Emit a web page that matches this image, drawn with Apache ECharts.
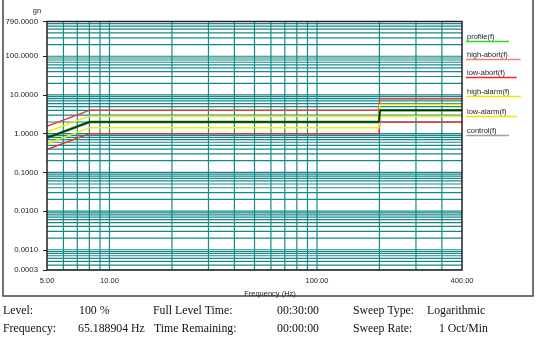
<!DOCTYPE html>
<html>
<head>
<meta charset="utf-8">
<script src="https://cdn.jsdelivr.net/npm/echarts@6/dist/echarts.min.js"></script>
<style>
html,body{margin:0;padding:0;background:#fff;}
#c{width:536px;height:338px;}
</style>
</head>
<body>
<div id="c"></div>
<script>
// ---- data ----
const limitFreq = [5, 8, 199, 201, 500];
const profile   = [0.78, 2.0, 2.0, 4.0, 4.0];
const highAbort = [1.56, 4.0, 4.0, 8.0, 8.0];
const lowAbort  = [0.39, 1.0, 1.0, 2.0, 2.0];
const highAlarm = [1.10, 2.83, 2.83, 5.66, 5.66];
const lowAlarm  = [0.55, 1.41, 1.41, 2.83, 2.83];
const controlFreq = [5, 5.5, 6, 6.5, 7, 7.5, 8, 20, 50, 100, 150, 199, 201, 300, 500];
const control     = [0.80, 0.93, 1.12, 1.30, 1.53, 1.77, 2.0, 2.0, 2.01, 2.0, 2.0, 2.0, 4.0, 4.0, 4.0];

const xTickValues = [5, 10, 100, 500];
const xTickLabels = ['5.00', '10.00', '100.00', '400.00'];
const xMin = 5, xMax = 500;
const yMin = 0.0003, yMax = 790;

const legendNames  = ['profile(f)', 'high-abort(f)', 'low-abort(f)', 'high-alarm(f)', 'low-alarm(f)', 'control(f)'];
const legendColors = ['#22dd22', '#f08080', '#ff2020', '#f2e600', '#f2e600', '#a0a0a0'];

const infoRow1 = [['Level:', 3], ['100 %', 79], ['Full Level Time:', 153], ['00:30:00', 277], ['Sweep Type:', 353], ['Logarithmic', 427]];
const infoRow2 = [['Frequency:', 3], ['65.188904 Hz', 78], ['Time Remaining:', 154], ['00:00:00', 277], ['Sweep Rate:', 353], ['1 Oct/Min', 439]];

// ---- grid line values (log minor grid 1..9 per decade) ----
const yGrid = [];
for (let e = -4; e <= 2; e++) for (let m = 1; m <= 9; m++) {
  const v = Number((m + 'e' + e));
  if (v > yMin * 0.999 && v < yMax) yGrid.push(v);
}
const xGrid = [];
for (let e = 0; e <= 2; e++) for (let m = 1; m <= 9; m++) {
  const v = Number((m + 'e' + e));
  if (v > xMin && v < xMax) xGrid.push(v);
}

const pairs = (xs, ys) => xs.map((x, i) => [x, ys[i]]);
const gridColor = '#17898a';

const chart = echarts.init(document.getElementById('c'), null, {renderer: 'canvas'});

function lineSeries(name, data, color, width, z) {
  return {name, type: 'line', data, showSymbol: false, symbol: 'none', silent: true, z,
    lineStyle: {color, width}, animation: false};
}

const graphics = [
  {type: 'rect', shape: {x: 3, y: -2, width: 530, height: 298}, style: {fill: null, stroke: '#444', lineWidth: 1.5}, silent: true},
  {type: 'text', x: 37, y: 11, style: {text: 'gn', font: '7.5px "Liberation Sans", Arial', fill: '#222', textAlign: 'center', textVerticalAlign: 'middle'}}
];
const legendY = [37, 55, 73, 92, 112, 131];
legendNames.forEach((n, i) => {
  graphics.push({type: 'text', x: 467, y: legendY[i], style: {text: n, font: '7.5px "Liberation Sans", Arial', fill: '#222', textAlign: 'left', textVerticalAlign: 'middle'}});
  const w = n.length * 3.9 + 4;
  graphics.push({type: 'line', shape: {x1: 466, y1: legendY[i] + 4.5, x2: 466 + w, y2: legendY[i] + 4.5}, style: {stroke: legendColors[i], lineWidth: 1.3}});
});
[[infoRow1, 311], [infoRow2, 329]].forEach(([row, y]) => {
  row.forEach(([t, x]) => {
    graphics.push({type: 'text', x, y, style: {text: t, font: '11.8px "Liberation Serif", "Times New Roman", serif', fill: '#111', textAlign: 'left', textVerticalAlign: 'middle'}});
  });
});

const gridSeries = yGrid.map(v => lineSeries('', [[xMin, v], [xMax, v]], gridColor, 1.2, 1))
  .concat(xGrid.map(v => lineSeries('', [[v, yMin], [v, yMax]], gridColor, 1.2, 1)));

chart.setOption({
  animation: false,
  backgroundColor: '#fff',
  grid: {left: 47, right: 74, top: 21.5, bottom: 68, show: true, borderColor: '#222', borderWidth: 1.5, backgroundColor: 'transparent', z: 20},
  xAxis: {
    type: 'log', logBase: 10, min: xMin, max: xMax,
    name: 'Frequency (Hz)', nameLocation: 'middle', nameGap: 17,
    nameTextStyle: {fontFamily: 'Liberation Sans, Arial', fontSize: 7.5, color: '#222', padding: [0, 0, 0, 31]},
    axisLine: {show: false}, axisTick: {show: false}, splitLine: {show: false},
    axisLabel: {
      fontFamily: 'Liberation Sans, Arial', fontSize: 7.5, color: '#222', margin: 7,
      showMinLabel: true, showMaxLabel: true,
      formatter: function (v) {
        for (let i = 0; i < xTickValues.length; i++) {
          if (Math.abs(Math.log10(v) - Math.log10(xTickValues[i])) < 1e-6) return xTickLabels[i];
        }
        return '';
      }
    }
  },
  yAxis: {
    type: 'log', logBase: 10, min: yMin, max: yMax,
    axisLine: {show: false}, splitLine: {show: false},
    axisTick: {show: true, length: 4, lineStyle: {color: '#222', width: 1}},
    axisLabel: {
      fontFamily: 'Liberation Sans, Arial', fontSize: 7.8, color: '#222', margin: 9,
      showMinLabel: true, showMaxLabel: true,
      formatter: v => (+v).toFixed(4)
    }
  },
  series: gridSeries.concat([
    lineSeries('low-abort(f)', pairs(limitFreq, lowAbort), '#d83838', 1.5, 10),
    lineSeries('high-abort(f)', pairs(limitFreq, highAbort), '#e04040', 1.5, 10),
    lineSeries('low-alarm(f)', pairs(limitFreq, lowAlarm), '#f2ea10', 1.5, 10),
    lineSeries('high-alarm(f)', pairs(limitFreq, highAlarm), '#f2ea10', 1.5, 10),
    lineSeries('profile(f)', pairs(limitFreq, profile), '#127a12', 2.5, 11),
    lineSeries('control(f)', pairs(controlFreq, control), '#0d200d', 1, 12)
  ]),
  graphic: graphics
});
</script>
</body>
</html>
